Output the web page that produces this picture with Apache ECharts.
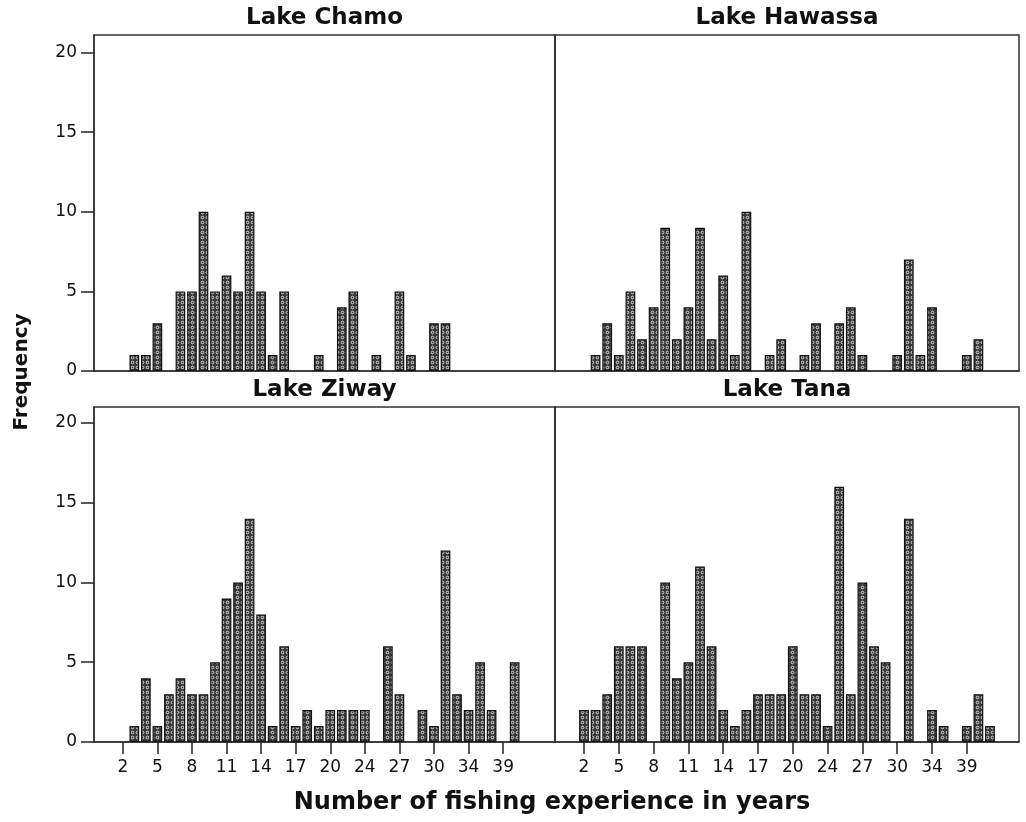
<!DOCTYPE html>
<html>
<head>
<meta charset="utf-8">
<script src="https://cdn.jsdelivr.net/npm/echarts@6/dist/echarts.min.js"></script>
<style>
html,body{margin:0;padding:0;background:#fff;}
#chart{width:1026px;height:822px;}
</style>
</head>
<body>
<div id="chart"></div>
<script>
// Fishing experience (years) categories present on the shared axis
const categories = ['2','3','4','5','6','7','8','9','10','11','12','13','14','15','16','17','18','19','20',
  '21','22','24','25','26','27','28','29','30','31','32','34','35','36','39','40','42'];
// Frequencies per lake (one value per category above)
const chamo   = [0,1,1,3,0,5,5,10,5,6,5,10,5,1,5,0,0,1,0,4,5,0,1,0,5,1,0,3,3,0,0,0,0,0,0,0];
const hawassa = [0,1,3,1,5,2,4,9,2,4,9,2,6,1,10,0,1,2,0,1,3,0,3,4,1,0,0,1,7,1,4,0,0,1,2,0];
const ziway   = [0,1,4,1,3,4,3,3,5,9,10,14,8,1,6,1,2,1,2,2,2,2,0,6,3,0,2,1,12,3,2,5,2,0,5,0];
const tana    = [2,2,3,6,6,6,0,10,4,5,11,6,2,1,2,3,3,3,6,3,3,1,16,3,10,6,5,0,14,0,2,1,0,1,3,1];
const lakeNames = ['Lake Chamo','Lake Hawassa','Lake Ziway','Lake Tana'];
const yTicks = [0,5,10,15,20];
const xTitle = 'Number of fishing experience in years';
const yTitle = 'Frequency';

// pattern fill
const tile = document.createElement('canvas');
tile.width = 5; tile.height = 5;
const tc = tile.getContext('2d');
tc.fillStyle = '#3a3a3a'; tc.fillRect(0,0,5,5);
tc.strokeStyle = '#e8e8e8'; tc.lineWidth = 0.9;
tc.beginPath(); tc.arc(2.5,2.5,1.3,0,Math.PI*2); tc.stroke();

const PAD = 2;
const padNames = [' ','  ','   ','    '];
const axisCats = [padNames[0], padNames[1]].concat(categories, [padNames[2], padNames[3]]);
function padData(arr){
  return [null,null].concat(arr.map(v => v === 0 ? null : v), [null,null]);
}
const seriesData = [chamo, hawassa, ziway, tana];
const FONT = 'DejaVu Sans';

const grids = [
  {left:94, top:35, width:461, height:336},
  {left:555, top:35, width:464, height:336},
  {left:94, top:407, width:461, height:335},
  {left:555, top:407, width:464, height:335}
];
const yMax = [21.1, 21.1, 21.0, 21.0];
const lastIdx = PAD + categories.length - 1;
const showIdx = (i) => i >= PAD && i <= lastIdx && (i - PAD) % 3 === 0;

const option = {
  animation:false,
  backgroundColor:'#fff',
  grid: grids.map(g => Object.assign({show:true, borderColor:'#333', borderWidth:1.5, backgroundColor:'transparent'}, g)),
  xAxis: grids.map((g,i) => ({
    type:'category', gridIndex:i, data:axisCats, boundaryGap:true,
    axisLine:{show:true, lineStyle:{color:'#333', width:1.5}},
    axisTick:{show:i>=2, alignWithLabel:true, length:12, interval:(idx)=>showIdx(idx), lineStyle:{color:'#222', width:1.5}},
    axisLabel:{show:i>=2, interval:(idx)=>showIdx(idx), margin:17, color:'#111', fontFamily:FONT, fontSize:17},
    splitLine:{show:false}
  })),
  yAxis: grids.map((g,i) => ({
    type:'value', gridIndex:i, min:0, max:yMax[i],
    axisLine:{show:true, lineStyle:{color:'#333', width:1.5}},
    axisTick:{show:i%2===0, length:13, customValues:yTicks, lineStyle:{color:'#222', width:1.5}},
    axisLabel:{show:i%2===0, customValues:yTicks, margin:17, color:'#111', fontFamily:FONT, fontSize:17},
    splitLine:{show:false}
  })),
  series: seriesData.map((d,i) => ({
    type:'bar', xAxisIndex:i, yAxisIndex:i, data:padData(d),
    barCategoryGap:'16%',
    itemStyle:{color:{image:tile, repeat:'repeat'}, borderColor:'#111', borderWidth:1.2}
  })),
  graphic: [
    ...grids.map((g,i) => ({
      type:'text', x:g.left + g.width/2, y: i<2 ? 18 : 390,
      style:{text:lakeNames[i], font:'bold 23px "'+FONT+'"', fill:'#111', align:'center', verticalAlign:'middle', textAlign:'center', textVerticalAlign:'middle'}
    })),
    {type:'text', x:22, y:372, rotation:Math.PI/2,
     style:{text:yTitle, font:'bold 20px "'+FONT+'"', fill:'#111', align:'center', verticalAlign:'middle', textAlign:'center', textVerticalAlign:'middle'}},
    {type:'text', x:552, y:803,
     style:{text:xTitle, font:'bold 24px "'+FONT+'"', fill:'#111', align:'center', verticalAlign:'middle', textAlign:'center', textVerticalAlign:'middle'}}
  ]
};
const chart = echarts.init(document.getElementById('chart'), null, {renderer:'canvas'});
chart.setOption(option);
</script>
</body>
</html>
